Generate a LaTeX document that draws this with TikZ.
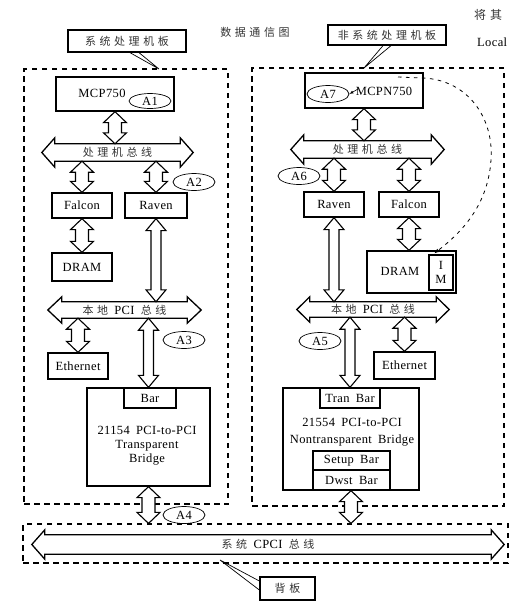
\documentclass[tikz,border=0pt]{standalone}
\usepackage{fontspec}
\setmainfont{Liberation Serif}[LetterSpace=3,WordSpace=1.8]
\newfontfamily\cjk[LetterSpace=32]{Noto Sans CJK SC}
\usetikzlibrary{calc,shapes.geometric,arrows.meta}
\newcommand\zhtxt[1]{{\cjk\fontsize{11}{13}\selectfont\color{black!80}#1}}
\newcommand\busshape[3]{%
  \draw[busline] ([xshift=-#3]#1.west) -- ([yshift=#2]#1.north west) -- (#1.north west) -- (#1.north east)
   -- ([yshift=#2]#1.north east) -- ([xshift=#3]#1.east) -- ([yshift=-#2]#1.south east) -- (#1.south east)
   -- (#1.south west) -- ([yshift=-#2]#1.south west) -- cycle;}
\tikzset{
  box/.style={draw, line width=1.3pt, inner sep=0pt},
  board/.style={draw, dash pattern=on 5.5pt off 4.5pt, line width=1.2pt, inner sep=0pt},
  tag/.style={draw, ellipse, line width=0.7pt, inner sep=0pt, minimum width=42pt, minimum height=17pt},
  bus/.style={inner sep=0pt},
  busline/.style={line width=1.3pt, line join=miter},
  tail/.style={line width=0.7pt},
  blk/.style={line width=1.1pt, fill=white, line join=miter},
  vblock/.style n args={3}{to path={let \p1=(\tikztostart), \p2=(\tikztotarget) in
    (\x1,\y1) -- (\x1+#2,\y1-#3) -- (\x1+#1,\y1-#3) -- (\x1+#1,\y2+#3) -- (\x1+#2,\y2+#3) -- (\x1,\y2)
    -- (\x1-#2,\y2+#3) -- (\x1-#1,\y2+#3) -- (\x1-#1,\y1-#3) -- (\x1-#2,\y1-#3) -- cycle}},
  sarrow/.style={blk, vblock={6.5pt}{11.5pt}{11pt}},
  larrow/.style={blk, vblock={5pt}{10pt}{12pt}},
  flow/.style={dash pattern=on 3.5pt off 4.5pt, line width=0.8pt, -{Latex[length=5pt,width=4pt]}},
}
\begin{document}
\begin{tikzpicture}[x=1pt,y=-1pt,font=\fontsize{12.5}{14}\selectfont]
\useasboundingbox (0,0) rectangle (512,603);

% boards
\node[board, minimum width=204pt, minimum height=435pt] (board1) at (126,286.5) {};
\node[board, minimum width=252pt, minimum height=438pt] (board2) at (378,287) {};
\node[board, minimum width=485pt, minimum height=39pt] (cpcibox) at (265.5,543.5) {};

% title and side text
\node (title) at (255,32) {\zhtxt{数据通信图}};
\node[anchor=west, inner sep=0pt] (jq) at (474,15) {{\cjk\fontsize{12}{14}\selectfont\color{black!80}将其}};
\node[anchor=west, inner sep=0pt] (loc) at (477,42) {Local};

% callout labels
\node[box, minimum width=118pt, minimum height=22pt] (lbl1) at (127,41) {\zhtxt{系统处理机板}};
\node[box, minimum width=118pt, minimum height=20pt] (lbl2) at (387,35) {\zhtxt{非系统处理机板}};
\coordinate (t1) at (159,69);
\coordinate (t2) at (364,68);
\draw[tail] ([xshift=3pt]lbl1.south) -- (t1) -- ([xshift=12pt]lbl1.south);
\draw[tail] ([xshift=-4pt]lbl2.south) -- (t2) -- ([xshift=4pt]lbl2.south);

% left board
\node[box, minimum width=118pt, minimum height=34pt] (mcp) at (115,94) {};
\node (mcptxt) at (102,93) {MCP750};
\node[tag, minimum height=15pt] (A1) at (150,101) {A1};
\node[bus, minimum width=125pt, minimum height=17pt] (pbus1) at (117.5,152.5) {\zhtxt{处理机总线}};
\busshape{pbus1}{6pt}{13pt}
\node[box, minimum width=60pt, minimum height=25pt] (falcon1) at (82,205.5) {Falcon};
\node[box, minimum width=62pt, minimum height=25pt] (raven1) at (156,205.5) {Raven};
\node[tag] (A2) at (194,182) {A2};
\node[box, minimum width=60pt, minimum height=28pt] (dram1) at (82,267) {DRAM};
\node[bus, minimum width=125pt, minimum height=16pt] (pci1) at (124.5,310) {\zhtxt{本地} PCI \zhtxt{总线}};
\busshape{pci1}{5pt}{14pt}
\node[box, minimum width=60pt, minimum height=26pt] (eth1) at (78,366) {Ethernet};
\node[tag] (A3) at (184,340) {A3};
\node[box, minimum width=123pt, minimum height=98pt] (bridge1) at (148.5,437) {};
\node[box, minimum width=52pt, minimum height=20pt] (bar1) at (150,398) {Bar};
\node[align=center] (b1txt) at (147,446) {21154 PCI-to-PCI\\Transparent\\Bridge};
\node[tag] (A4) at (184,515) {A4};

% right board
\node[box, minimum width=118pt, minimum height=35pt] (mcpn) at (364,90.5) {};
\node (mcpntxt) at (384,91) {MCPN750};
\node[tag] (A7) at (328,94) {A7};
\coordinate (a7s) at (358,89);
\draw[line width=0.6pt, -{Latex[length=4pt,width=3pt]}] (a7s) -- (A7.east);
\node[bus, minimum width=127pt, minimum height=17pt] (pbus2) at (367.5,149.5) {\zhtxt{处理机总线}};
\busshape{pbus2}{6pt}{13pt}
\node[tag] (A6) at (299,176) {A6};
\node[box, minimum width=60pt, minimum height=25pt] (raven2) at (334,204.5) {Raven};
\node[box, minimum width=60pt, minimum height=25pt] (falcon2) at (409,204.5) {Falcon};
\node[box, minimum width=89pt, minimum height=42pt] (dram2) at (411.5,272) {};
\node (dram2txt) at (400,271) {DRAM};
\node[box, minimum width=24pt, minimum height=35pt, align=center] (im) at (441,272.5) {I\\M};
\node[bus, minimum width=126pt, minimum height=15pt] (pci2) at (373,309.5) {\zhtxt{本地} PCI \zhtxt{总线}};
\busshape{pci2}{5pt}{13pt}
\node[tag] (A5) at (320,341) {A5};
\node[box, minimum width=61pt, minimum height=27pt] (eth2) at (404.5,365.5) {Ethernet};
\node[box, minimum width=136pt, minimum height=102pt] (bridge2) at (351,439) {};
\node[box, minimum width=60pt, minimum height=20pt] (tranbar) at (350,398) {Tran Bar};
\node[align=center] (b2txt) at (352,432) {21554 PCI-to-PCI\\[3pt]Nontransparent Bridge};
\node[box, minimum width=77pt, minimum height=19pt] (setupbar) at (351.5,460.5) {Setup Bar};
\node[box, minimum width=77pt, minimum height=20pt] (dwstbar) at (351.5,480) {Dwst Bar};

% dashed data path
\coordinate (ds) at (398,77);
\draw[flow] (ds) -- (423,78) .. controls (468,80) and (494,118) .. (491,160)
  .. controls (488,205) and (462,232) .. ([xshift=6pt,yshift=1pt]im.north west);

% backplane bus
\node[bus, minimum width=446pt, minimum height=19pt] (cpci) at (268,544.5) {\zhtxt{系统} CPCI \zhtxt{总线}};
\busshape{cpci}{5pt}{13pt}
\node[box, minimum width=55pt, minimum height=23pt] (bb) at (287.5,588.5) {\zhtxt{背板}};
\coordinate (t3) at (220,560);
\draw[tail] ([yshift=7.5pt]bb.west) -- (t3) -- ([yshift=-1.5pt]bb.west);

% block arrows, left
\draw[sarrow] (mcp.south) to (pbus1.north);
\draw[sarrow] (falcon1.north |- pbus1.south) to (falcon1.north);
\draw[sarrow] (raven1.north |- pbus1.south) to (raven1.north);
\draw[sarrow] (falcon1.south) to (dram1.north);
\draw[larrow] (raven1.south) to (pci1.north);
\draw[sarrow] (eth1.north |- pci1.south) to (eth1.north);
\draw[larrow] (bridge1.north |- pci1.south) to (bar1.north);
\draw[sarrow] (bridge1.south) to (cpcibox.north);

% block arrows, right
\draw[sarrow] (mcpn.south) to (pbus2.north);
\draw[sarrow] (raven2.north |- pbus2.south) to (raven2.north);
\draw[sarrow] (falcon2.north |- pbus2.south) to (falcon2.north);
\draw[sarrow] (falcon2.south) to (dram2.north);
\draw[larrow] (raven2.south) to (pci2.north);
\draw[larrow] (tranbar.north |- pci2.south) to (tranbar.north);
\draw[sarrow] (eth2.north |- pci2.south) to (eth2.north);
\draw[sarrow] (bridge2.south) to (cpcibox.north);
\end{tikzpicture}
\end{document}
